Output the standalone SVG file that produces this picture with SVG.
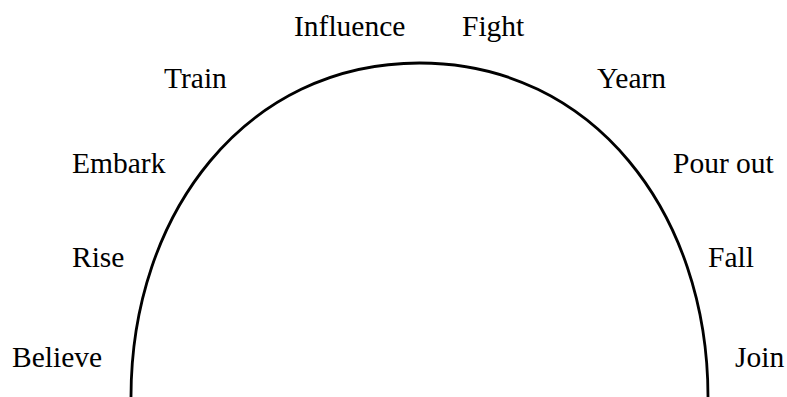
<svg xmlns="http://www.w3.org/2000/svg" width="787" height="397" viewBox="0 0 787 397">
<style>
.lbl{font-family:"Liberation Serif","Times New Roman",serif;font-size:29.5px;fill:#000}
.arc{fill:none;stroke:#000;stroke-width:2.8}
</style>
<rect width="787" height="397" fill="#fff"/>
<g id="connectors">
<path class="arc" d="M131,397 C131,213 246,63 419.5,63 C593,63 708,213 708,397"/>
</g>
<g id="believe"><text class="lbl" x="12" y="367">Believe</text></g>
<g id="rise"><text class="lbl" x="72" y="266.5">Rise</text></g>
<g id="embark"><text class="lbl" x="72" y="173.3">Embark</text></g>
<g id="train"><text class="lbl" x="164" y="88.3">Train</text></g>
<g id="influence"><text class="lbl" x="294" y="36">Influence</text></g>
<g id="fight"><text class="lbl" x="462" y="36">Fight</text></g>
<g id="yearn"><text class="lbl" x="597" y="88.3">Yearn</text></g>
<g id="pourout"><text class="lbl" x="673" y="173.3">Pour out</text></g>
<g id="fall"><text class="lbl" x="708" y="267">Fall</text></g>
<g id="join"><text class="lbl" x="735" y="367">Join</text></g>
</svg>
